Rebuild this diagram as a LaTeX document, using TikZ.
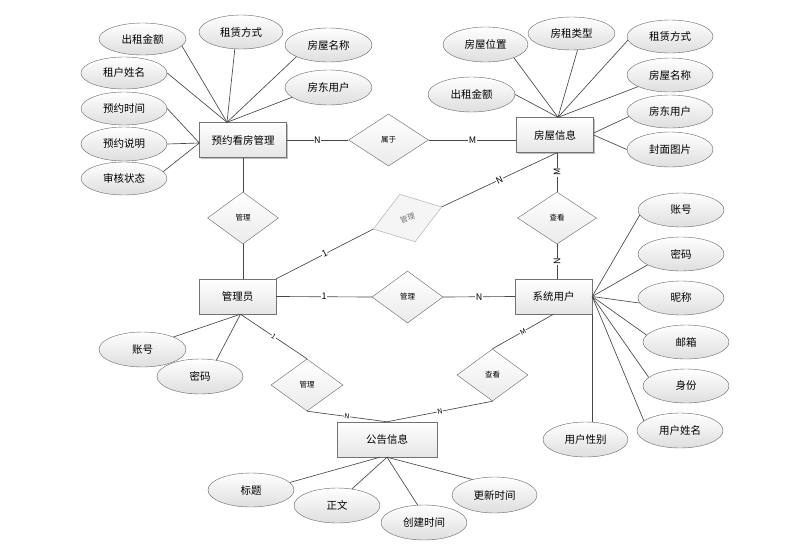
\documentclass[tikz,border=0pt]{standalone}
\usepackage{fontspec}
\setmainfont{Noto Sans CJK SC}
\usetikzlibrary{shapes.geometric,shadows}
\begin{document}
\begin{tikzpicture}[x=1pt,y=-1pt,
 ent/.style={rectangle,draw=black!55,top color=white,bottom color=black!10,minimum height=35pt,inner sep=0pt,font=\fontsize{10.5}{12}\selectfont,drop shadow={shadow xshift=1pt,shadow yshift=-1pt,opacity=0.25,fill=black}},
 rel/.style={diamond,draw=black!60,top color=white,bottom color=black!8,minimum width=72pt,minimum height=52pt,inner sep=0pt,font=\fontsize{7.5}{8}\selectfont},
 grel/.style={diamond,draw=black!35,fill=black!4,text=black!55,minimum width=72pt,minimum height=50pt,inner sep=0pt,font=\fontsize{7.5}{8}\selectfont},
 att/.style={ellipse,draw=black!60,top color=white,bottom color=black!13,minimum width=86pt,minimum height=34pt,inner sep=0pt,font=\fontsize{10.5}{12}\selectfont},
 ln/.style={draw=black!72,line width=0.65pt},
 lab/.style={fill=white,inner sep=0.6pt,font=\fontsize{9}{10}\selectfont},
 slab/.style={fill=white,inner sep=0.4pt,font=\fontsize{7}{8}\selectfont,sloped}]
\fill[white] (0,0) rectangle (793,552);
\useasboundingbox (0,0) rectangle (793,552);
% entities
\node[ent,minimum width=87pt] (r1) at (243,140) {预约看房管理};
\node[ent,minimum width=77pt] (r2) at (555,135) {房屋信息};
\node[ent,minimum width=77pt] (r3) at (237.5,296.5) {管理员};
\node[ent,minimum width=77pt] (r4) at (553.5,296.5) {系统用户};
\node[ent,minimum width=100pt] (r5) at (387,439.5) {公告信息};
% relations
\node[rel,minimum width=80pt] (d1) at (388.5,140) {属于};
\node[rel,minimum width=71pt] (d2) at (243,218) {管理};
\node[grel,rotate=18] (d3) at (407.5,218) {管理};
\node[rel,minimum width=79pt] (d4) at (557,218) {查看};
\node[rel,minimum width=71pt] (d5) at (407.5,297) {管理};
\node[rel,minimum width=72pt] (d6) at (307,385) {管理};
\node[rel,minimum width=71pt] (d7) at (492.5,375) {查看};
% attributes of 预约看房管理
\node[att,minimum width=87pt,minimum height=32pt] (a1) at (142.5,39) {出租金额};
\node[att,minimum width=84pt] (a2) at (241,32) {租赁方式};
\node[att,minimum width=87pt] (a3) at (328.5,45) {房屋名称};
\node[att,minimum width=87pt,minimum height=35pt] (a4) at (328.5,87.5) {房东用户};
\node[att,minimum width=86pt,minimum height=32pt] (a5) at (124,73) {租户姓名};
\node[att,minimum width=86pt,minimum height=33pt] (a6) at (124,108.5) {预约时间};
\node[att,minimum width=86pt] (a7) at (124,144) {预约说明};
\node[att,minimum width=86pt,minimum height=33pt] (a8) at (124,178.5) {审核状态};
% attributes of 房屋信息
\node[att,minimum width=85pt,minimum height=35pt] (b1) at (485.5,44.5) {房屋位置};
\node[att,minimum width=87pt,minimum height=33pt] (b2) at (571.5,33.5) {房租类型};
\node[att,minimum width=86pt,minimum height=33pt] (b3) at (670,36.5) {租赁方式};
\node[att,minimum width=87pt,minimum height=35pt] (b4) at (471.5,94.5) {出租金额};
\node[att,minimum width=86pt] (b5) at (670,75) {房屋名称};
\node[att,minimum width=86pt,minimum height=33pt] (b6) at (670,111.5) {房东用户};
\node[att,minimum width=86pt,minimum height=35pt] (b7) at (670,149.5) {封面图片};
% attributes of 系统用户
\node[att] (c1) at (681,210) {账号};
\node[att] (c2) at (681,254) {密码};
\node[att] (c3) at (681,298) {昵称};
\node[att] (c4) at (686,342) {邮箱};
\node[att] (c5) at (686,386) {身份};
\node[att,minimum height=35pt] (c6) at (680,430.5) {用户姓名};
\node[att,minimum width=85pt,minimum height=35pt] (c7) at (585.5,439.5) {用户性别};
% attributes of 管理员
\node[att,minimum width=87pt,minimum height=35pt] (e1) at (142.5,349.5) {账号};
\node[att,minimum height=35pt] (e2) at (200,376.5) {密码};
% attributes of 公告信息
\node[att] (f1) at (251,490) {标题};
\node[att,minimum height=35pt] (f2) at (337,505.5) {正文};
\node[att,minimum height=35pt] (f3) at (424,522.5) {创建时间};
\node[att,minimum width=85pt,minimum height=36pt] (f4) at (494.5,495) {更新时间};
% relationship connectors
\draw[ln] (r1.east) -- node[lab]{N} (d1.west);
\draw[ln] (d1.east) -- node[lab]{M} (d1.east -| r2.west);
\draw[ln] (r1.south) -- (d2.north);
\draw[ln] (d2.south) -- (d2.south |- r3.north);
\draw[ln] (r3.north east) -- node[lab,sloped]{1} (d3.west);
\draw[ln] (d3.east) -- node[lab,sloped]{N} ([xshift=2pt]r2.south);
\draw[ln] (d4.north |- r2.south) -- node[lab,rotate=90]{M} (d4.north);
\draw[ln] (d4.south) -- node[lab,rotate=90]{N} (d4.south |- r4.north);
\draw[ln] (r3.east) -- node[lab]{1} (d5.west);
\draw[ln] (d5.east) -- node[lab]{N} (r4.west);
\draw[ln] ([xshift=3pt]r3.south) -- node[slab]{1} (d6.north);
\draw[ln] (d6.south) -- node[slab]{N} (r5.north);
\draw[ln] (r4.south) -- node[slab]{M} (d7.north);
\draw[ln] (d7.south) -- node[slab]{N} (r5.north);
% attribute connectors
\coordinate (p1) at ([xshift=-16pt]r1.north);
\draw[ln] (a1.350) -- (p1);
\draw[ln] (a2.250) -- (p1);
\draw[ln] (a3.200) -- (p1);
\draw[ln] (a4.195) -- (p1);
\draw[ln] (a5.east) -- (p1);
\draw[ln] (a6.east) -- ([yshift=-3pt]r1.west);
\draw[ln] (a7.east) -- ([yshift=-3pt]r1.west);
\draw[ln] (a8.10) -- ([yshift=-3pt]r1.west);
\coordinate (p2) at ([xshift=3pt]r2.north);
\draw[ln] (b1.335) -- (p2);
\draw[ln] (b2.290) -- (p2);
\draw[ln] (b3.185) -- (p2);
\draw[ln] (b4.east) -- (p2);
\draw[ln] (b5.200) -- (p2);
\draw[ln] (b6.187) -- ([yshift=2pt]r2.east);
\draw[ln] (b7.west) -- (r2.east);
\draw[ln] (c1.187) -- (r4.east);
\draw[ln] (c2.198) -- (r4.east);
\draw[ln] (c3.187) -- (r4.east);
\draw[ln] (c4.170) -- (r4.east);
\draw[ln] (c5.167) -- (r4.east);
\draw[ln] (c6.165) -- (r4.east);
\draw[ln] (r4.south east) -- (c7.north -| r4.south east);
\draw[ln] (e1.22) -- ([xshift=3pt]r3.south);
\draw[ln] (e2.45) -- ([xshift=3pt]r3.south);
\draw[ln] (f1.11) -- ([xshift=-7pt]r5.south);
\draw[ln] (f2.48) -- (r5.south);
\draw[ln] (f3.110) -- (r5.south);
\draw[ln] (f4.145) -- (r5.south);
\end{tikzpicture}
\end{document}
